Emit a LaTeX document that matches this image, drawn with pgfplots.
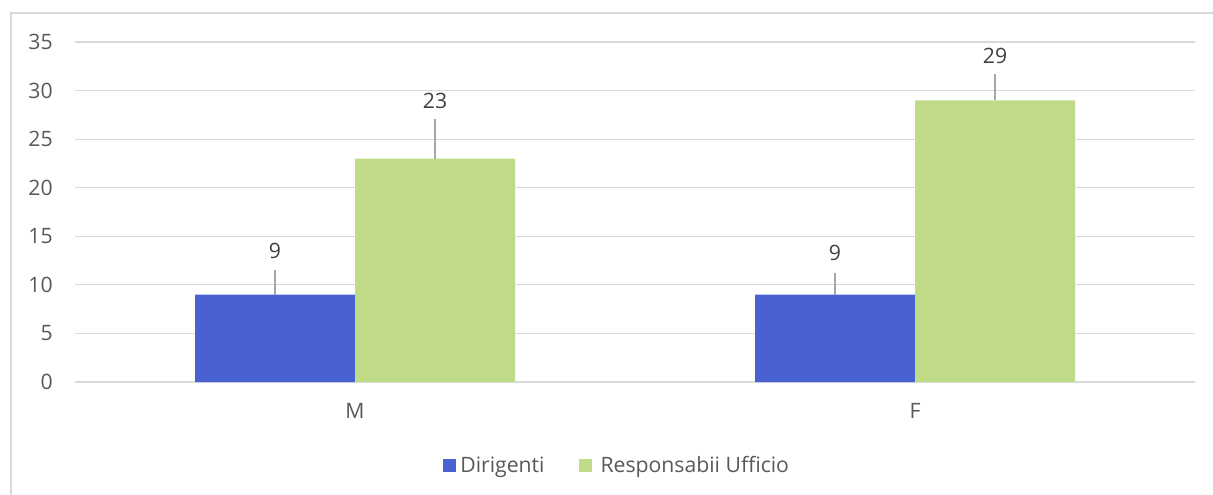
\documentclass[border=0pt]{standalone}
\usepackage{pgfplots}
\usepackage{pgfplotstable}
\pgfplotsset{compat=1.18}
\usepackage{fontspec}
\setmainfont{Open Sans}
\newcommand{\chartfont}{\fontsize{10.6}{13}\selectfont}
\definecolor{barblue}{HTML}{4A62D1}
\definecolor{bargreen}{HTML}{BFDB87}
\definecolor{gridgray}{HTML}{D9D9D9}
\definecolor{ticktext}{HTML}{595959}
\definecolor{labeltext}{HTML}{404040}
\definecolor{leader}{HTML}{A6A6A6}
\pgfplotstableread{
x y e ly
-0.142857 9 2.57 13.49
0.857143 9 2.26 13.28
}\dirigenti
\pgfplotstableread{
x y e ly
0.142857 23 4.12 28.93
1.142857 29 2.68 33.56
}\responsabili
\begin{document}
\begin{tikzpicture}
\useasboundingbox (-37.5pt,-56pt) rectangle (569pt,191pt);
\draw[gridgray, line width=0.75pt] (-32pt,-70pt) -- (-32pt,184.5pt) -- (580pt,184.5pt);
\begin{axis}[
  scale only axis,
  width=560pt, height=170pt,
  xmin=-0.5, xmax=1.5, ymin=0, ymax=35,
  ytick={0,5,...,35},
  xtick={0,1}, xticklabels={M,F},
  major tick length=0pt,
  axis line style={draw=none},
  ymajorgrids,
  grid style={gridgray, line width=0.6pt},
  /pgf/number format/assume math mode=true,
  ticklabel style={font=\chartfont, text=ticktext},
  yticklabel style={xshift=-7.6pt},
  xticklabel style={yshift=-7pt},
  legend style={at={(axis description cs:0.485,-0.247)}, anchor=center, draw=none,
    font=\chartfont, text=ticktext,
    /tikz/every even column/.append style={column sep=15pt}},
  legend columns=2,
  legend image code/.code={\fill (-1.5pt,-3.25pt) rectangle (5pt,3.25pt);},
]
\addplot[ybar, bar width=0.285714, bar shift=0pt, fill=barblue, draw=none,
  error bars/.cd, y dir=plus, y explicit, error mark=none,
  error bar style={leader, line width=0.7pt}]
  table[x=x, y=y, y error=e] {\dirigenti};
\addlegendentry{Dirigenti}
\addplot[ybar, bar width=0.285714, bar shift=0pt, fill=bargreen, draw=none,
  error bars/.cd, y dir=plus, y explicit, error mark=none,
  error bar style={leader, line width=0.7pt}]
  table[x=x, y=y, y error=e] {\responsabili};
\addlegendentry{\hspace{2.5pt}Responsabii Ufficio}
\addplot[draw=none, mark=none, forget plot, nodes near coords, point meta=explicit symbolic,
  nodes near coords style={anchor=center, text=labeltext, font=\chartfont}]
  table[x=x, y=ly, meta=y] {\dirigenti};
\addplot[draw=none, mark=none, forget plot, nodes near coords, point meta=explicit symbolic,
  nodes near coords style={anchor=center, text=labeltext, font=\chartfont}]
  table[x=x, y=ly, meta=y] {\responsabili};
\end{axis}
\end{tikzpicture}
\end{document}
